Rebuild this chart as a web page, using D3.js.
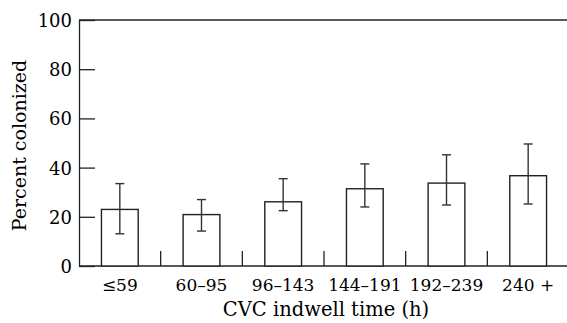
<!DOCTYPE html>
<html>
<head>
<meta charset="utf-8">
<script src="https://cdn.jsdelivr.net/npm/d3@7"></script>
<style>
  body { margin: 0; background: #fff; }
  svg text { font-family: "DejaVu Serif", serif; fill: #000; }
</style>
</head>
<body>
<script>
const categories = ['≤59', '60–95', '96–143', '144–191', '192–239', '240 +'];
const percent = [23.0, 20.9, 26.1, 31.4, 33.7, 36.7];
const errLow = [13.1, 14.2, 22.5, 24.0, 24.8, 25.2];
const errHigh = [33.5, 27.0, 35.5, 41.5, 45.2, 49.6];
const yTicks = [0, 20, 40, 60, 80, 100];

const w = 567;
const h = 323;
const mLeft = 79, mTop = 20, mBottom = 266, mRight = 569;
const ink = '#222';

const svg = d3.select('body')
              .append('svg')
              .attr('width', w)
              .attr('height', h)

const x = d3.scaleBand()
            .domain(categories)
            .range([mLeft, mRight])
            .paddingInner(0.55)
            .paddingOuter(0.275)

const y = d3.scaleLinear()
            .domain([0, 100])
            .range([mBottom, mTop])

// left axis, ticks pointing into the plot
const yAxis = d3.axisLeft(y)
                .tickValues(yTicks)
                .tickSize(-16)
                .tickSizeOuter(0)
svg.append('g')
   .attr('transform', `translate(${mLeft},0)`)
   .call(yAxis)
   .call(g => g.selectAll('line, path').attr('stroke', ink).attr('stroke-width', 1.3))
   .call(g => g.selectAll('text')
               .attr('x', -7)
               .attr('dy', '0.36em')
               .attr('font-size', 18)
               .attr('font-family', 'DejaVu Serif')
               .attr('fill', '#000'))

// top and bottom frame lines
svg.append('line')
   .attr('x1', mLeft).attr('x2', w).attr('y1', y(100)).attr('y2', y(100))
   .attr('stroke', ink).attr('stroke-width', 1.3)
svg.append('line')
   .attr('x1', mLeft).attr('x2', w).attr('y1', y(0)).attr('y2', y(0))
   .attr('stroke', ink).attr('stroke-width', 1.3)

// short separators between groups
const step = x.step();
svg.append('g')
   .selectAll('line')
   .data(categories.slice(1))
   .enter()
   .append('line')
   .attr('x1', d => x(d) - (step - x.bandwidth()) / 2)
   .attr('x2', d => x(d) - (step - x.bandwidth()) / 2)
   .attr('y1', y(0))
   .attr('y2', y(0) - 15)
   .attr('stroke', ink).attr('stroke-width', 1.3)

// bars
svg.append('g')
   .selectAll('rect')
   .data(categories)
   .enter()
   .append('rect')
   .attr('x', d => x(d))
   .attr('y', (d, i) => y(percent[i]))
   .attr('width', x.bandwidth())
   .attr('height', (d, i) => y(0) - y(percent[i]))
   .attr('fill', '#fff')
   .attr('stroke', ink)
   .attr('stroke-width', 1.4)

// error bars
const err = svg.append('g')
               .selectAll('g')
               .data(categories)
               .enter()
               .append('g')
               .attr('stroke', '#333')
               .attr('stroke-width', 1.4)
const cx = d => x(d) + x.bandwidth() / 2;
err.append('line')
   .attr('x1', cx).attr('x2', cx)
   .attr('y1', (d, i) => y(errLow[i]))
   .attr('y2', (d, i) => y(errHigh[i]))
err.append('line')
   .attr('x1', d => cx(d) - 4.5).attr('x2', d => cx(d) + 4.5)
   .attr('y1', (d, i) => y(errHigh[i])).attr('y2', (d, i) => y(errHigh[i]))
err.append('line')
   .attr('x1', d => cx(d) - 4.5).attr('x2', d => cx(d) + 4.5)
   .attr('y1', (d, i) => y(errLow[i])).attr('y2', (d, i) => y(errLow[i]))

// category labels
svg.append('g')
   .selectAll('text')
   .data(categories)
   .enter()
   .append('text')
   .attr('x', cx)
   .attr('y', 291)
   .attr('text-anchor', 'middle')
   .attr('font-size', 17)
   .text(d => d)

// axis titles
svg.append('text')
   .attr('x', 326)
   .attr('y', 316)
   .attr('text-anchor', 'middle')
   .attr('font-size', 19.5)
   .text('CVC indwell time (h)')

svg.append('text')
   .attr('transform', 'translate(26,145.5) rotate(-90)')
   .attr('text-anchor', 'middle')
   .attr('font-size', 19)
   .text('Percent colonized')
</script>
</body>
</html>
